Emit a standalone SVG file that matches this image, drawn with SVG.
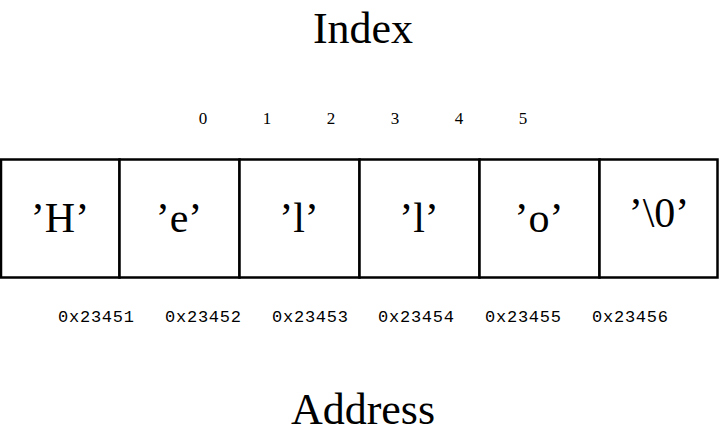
<svg xmlns="http://www.w3.org/2000/svg" width="719" height="437" viewBox="0 0 719 437">
<style>
.title{font-family:"Liberation Serif","DejaVu Serif",serif;font-size:44px;fill:#000;text-anchor:middle}
.ch{font-family:"Liberation Serif","DejaVu Serif",serif;font-size:42px;fill:#000;text-anchor:middle}
.idx{font-family:"Liberation Serif","DejaVu Serif",serif;font-size:17px;fill:#000;text-anchor:middle}
.addr{font-family:"Liberation Mono","DejaVu Sans Mono",monospace;font-size:17px;fill:#000;text-anchor:middle}
.cell{fill:#fff;stroke:#000;stroke-width:2.5}
</style>
<rect width="719" height="437" fill="#fff"/>
<g id="title-index"><text class="title" x="363" y="43">Index</text></g>
<g id="indices">
<text class="idx" x="203" y="124">0</text>
<text class="idx" x="267" y="124">1</text>
<text class="idx" x="331" y="124">2</text>
<text class="idx" x="395" y="124">3</text>
<text class="idx" x="459" y="124">4</text>
<text class="idx" x="523" y="124">5</text>
</g>
<g id="cell0"><rect class="cell" x="1" y="159.5" width="118.5" height="118"/><text class="ch" x="60" y="232">’H’</text></g>
<g id="cell1"><rect class="cell" x="119.5" y="159.5" width="120" height="118"/><text class="ch" x="179" y="232">’e’</text></g>
<g id="cell2"><rect class="cell" x="239.5" y="159.5" width="120" height="118"/><text class="ch" x="299" y="232">’l’</text></g>
<g id="cell3"><rect class="cell" x="359.5" y="159.5" width="120" height="118"/><text class="ch" x="419" y="232">’l’</text></g>
<g id="cell4"><rect class="cell" x="479.5" y="159.5" width="120" height="118"/><text class="ch" x="539" y="232">’o’</text></g>
<g id="cell5"><rect class="cell" x="599.5" y="159.5" width="118" height="118"/><text class="ch" x="659" y="227">’\0’</text></g>
<g id="addresses">
<text class="addr" x="96" y="322" textLength="76">0x23451</text>
<text class="addr" x="203" y="322" textLength="76">0x23452</text>
<text class="addr" x="310" y="322" textLength="76">0x23453</text>
<text class="addr" x="416" y="322" textLength="76">0x23454</text>
<text class="addr" x="523" y="322" textLength="76">0x23455</text>
<text class="addr" x="630" y="322" textLength="76">0x23456</text>
</g>
<g id="title-address"><text class="title" x="363" y="424">Address</text></g>
</svg>
